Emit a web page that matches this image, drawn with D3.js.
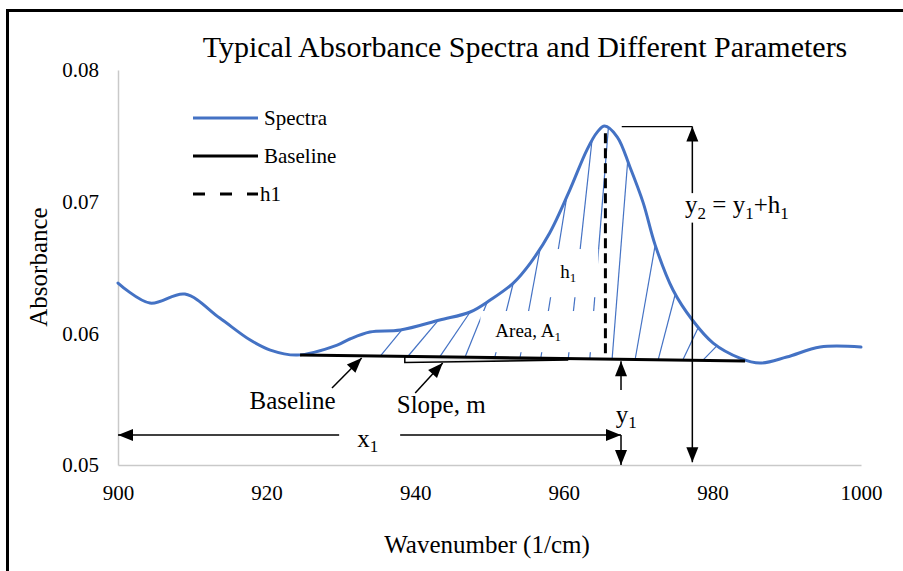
<!DOCTYPE html>
<html><head><meta charset="utf-8">
<script src="https://cdn.jsdelivr.net/npm/d3@7"></script>
<style>
body{margin:0;background:#fff;}
svg{display:block;font-family:"Liberation Serif","Times New Roman",serif;}
</style></head><body>
<svg id="c" width="903" height="571"></svg>
<script>
// ---------------- data ----------------
const wavenumber = [900, 904.3, 909.0, 913.7, 917.8, 920.5, 924.1, 929.5, 931.2, 933.9, 938.0, 943.3, 947.4, 950.1, 953.2, 955.5, 958.1, 960.8, 963.1, 964.5, 965.5, 967.2, 968.9, 970.7, 972.3, 974.7, 977.3, 980.1, 983.7, 986.4, 990.0, 994.5, 1000];
const absorbance = [0.06382, 0.06230, 0.06298, 0.06116, 0.05949, 0.05873, 0.05835, 0.05911, 0.05957, 0.06010, 0.06025, 0.06101, 0.06162, 0.06253, 0.06382, 0.06534, 0.06762, 0.07088, 0.07392, 0.07528, 0.07574, 0.07491, 0.07263, 0.06989, 0.06670, 0.06329, 0.06101, 0.05926, 0.05812, 0.05774, 0.05820, 0.05896, 0.05896];
const xTicks = [900, 920, 940, 960, 980, 1000];
const yTicks = [0.05, 0.06, 0.07, 0.08];
const baselineWn = [924.5, 984.4];
const baselineAbs = [0.05835, 0.05790];
const hatchBase = [935.3, 939.0, 943.3, 946.7, 950.7, 954.1, 956.9, 960.6, 963.5, 966.5, 969.6, 972.7, 976.0, 978.7];
const hatchTop  = [938.2, 943.1, 947.4, 949.7, 953.2, 956.8, 960.4, 963.8, 966.0, 968.6, 972.3, 975.0, 978.1, 980.6];
const legendLabels = ["Spectra", "Baseline", "h1"];
const peakWn = 965.6, peakAbs = 0.0757, h1TopAbs = 0.0752;
const y1Wn = 967.7, y2Wn = 977.3, x1Abs = 0.05228;
const titleText = "Typical Absorbance Spectra and Different Parameters";

// ---------------- setup ----------------
const W = 903, H = 571;
const svg = d3.select("#c");
const BLUE = "#4472C4";
const x = d3.scaleLinear().domain([900, 1000]).range([118, 861]);
const y = d3.scaleLinear().domain([0.05, 0.08]).range([465, 70]);
const base = w => baselineAbs[0] + (w - baselineWn[0]) * (baselineAbs[1] - baselineAbs[0]) / (baselineWn[1] - baselineWn[0]);

// outer frame
svg.append("rect").attr("x", 7.5).attr("y", 10.5).attr("width", W + 20).attr("height", H + 20)
  .attr("fill", "none").attr("stroke", "#000").attr("stroke-width", 3);

// title
svg.append("text").attr("x", 525).attr("y", 57).attr("text-anchor", "middle")
  .attr("font-size", 30).text(titleText);

// axes
const gx = svg.append("g").attr("transform", `translate(0,${y(0.05)})`)
  .call(d3.axisBottom(x).tickValues(xTicks).tickFormat(d3.format("d")).tickSize(0).tickSizeOuter(0).tickPadding(20));
const gy = svg.append("g").attr("transform", `translate(${x(900)},0)`)
  .call(d3.axisLeft(y).tickValues(yTicks).tickFormat(d3.format(".2f")).tickSize(0).tickSizeOuter(0).tickPadding(19));
[gx, gy].forEach(g => {
  g.select(".domain").attr("stroke", "#c9c9c9").attr("stroke-width", 1.5);
  g.selectAll("text").attr("font-size", 21).attr("font-family", '"Liberation Serif","Times New Roman",serif').attr("fill", "#000");
});

// axis titles
svg.append("text").attr("x", 487).attr("y", 553).attr("text-anchor", "middle").attr("font-size", 25).text("Wavenumber (1/cm)");
svg.append("text").attr("transform", "translate(47,267) rotate(-90)").attr("text-anchor", "middle").attr("font-size", 25).text("Absorbance");

// layers
const gHatch = svg.append("g");
const gMask = svg.append("g");
const gLines = svg.append("g");
const gAnn = svg.append("g");

// spectrum
const pts = wavenumber.map((w, i) => [x(w), y(absorbance[i])]);
const spec = gLines.append("path").attr("d", d3.line().curve(d3.curveCatmullRom.alpha(0.5))(pts))
  .attr("fill", "none").attr("stroke", BLUE).attr("stroke-width", 3).attr("stroke-linecap", "round");

// sample spectrum for hatch tops
const node = spec.node(), L = node.getTotalLength();
const samp = d3.range(0, 3001).map(i => { const p = node.getPointAtLength(L * i / 3000); return [p.x, p.y]; });
const curveY = px => { let best = samp[0]; for (const s of samp) if (Math.abs(s[0] - px) < Math.abs(best[0] - px)) best = s; return best[1]; };

// hatch
hatchBase.forEach((b, i) => {
  gHatch.append("line").attr("x1", x(b)).attr("y1", y(base(b)))
    .attr("x2", x(hatchTop[i])).attr("y2", curveY(x(hatchTop[i])))
    .attr("stroke", BLUE).attr("stroke-width", 1.2);
});

// slope wedge
const defs = svg.append("defs");
const grad = defs.append("linearGradient").attr("id", "wedge").attr("x1", "0").attr("x2", "1");
grad.append("stop").attr("offset", "0").attr("stop-color", "#fff");
grad.append("stop").attr("offset", "0.45").attr("stop-color", "#ddd");
grad.append("stop").attr("offset", "1").attr("stop-color", "#000");
const wL = 938.6, wR = 960.5;
gLines.append("path")
  .attr("d", `M${x(wL)},${y(base(wL))}L${x(wL)},${y(base(wL)) + 6}L${x(wR)},${y(base(wR)) + 1.5}L${x(wR)},${y(base(wR))}Z`)
  .attr("fill", "url(#wedge)").attr("stroke", "#000").attr("stroke-width", 1.5).attr("stroke-linejoin", "miter");

// baseline
gLines.append("line").attr("x1", x(baselineWn[0])).attr("y1", y(baselineAbs[0]))
  .attr("x2", x(baselineWn[1])).attr("y2", y(baselineAbs[1])).attr("stroke", "#000").attr("stroke-width", 3);

// h1 dashed
gLines.append("line").attr("x1", x(peakWn)).attr("x2", x(peakWn)).attr("y1", y(h1TopAbs)).attr("y2", y(base(peakWn)) + 1)
  .attr("stroke", "#000").attr("stroke-width", 3).attr("stroke-dasharray", "10,5");

// ------------- helpers -------------
function head(g, tx, ty, dx, dy) {
  const len = Math.hypot(dx, dy), ux = dx / len, uy = dy / len, hl = 15, hw = 6;
  const bx = tx - ux * hl, by = ty - uy * hl;
  g.append("path").attr("d", `M${tx},${ty}L${bx - uy * hw},${by + ux * hw}L${bx + uy * hw},${by - ux * hw}Z`).attr("fill", "#000");
}
function arrow(g, x1, y1, x2, y2, endHead, startHead) {
  g.append("line").attr("x1", x1).attr("y1", y1).attr("x2", x2).attr("y2", y2).attr("stroke", "#000").attr("stroke-width", 1.5);
  if (endHead) head(g, x2, y2, x2 - x1, y2 - y1);
  if (startHead) head(g, x1, y1, x1 - x2, y1 - y2);
}
function rich(g, parts, px, py, size, pads) {
  const t = g.append("text").attr("x", px).attr("y", py).attr("text-anchor", "middle").attr("font-size", size);
  let shifted = false;
  parts.forEach(p => {
    const s = t.append("tspan").text(p[0]);
    if (p[1]) { s.attr("font-size", size * 0.68).attr("dy", shifted ? 0 : size * 0.22); shifted = true; }
    else { if (shifted) s.attr("dy", -size * 0.22); shifted = false; }
  });
  if (pads) {
    const bb = t.node().getBBox();
    gMask.append("rect").attr("x", bb.x - pads[0]).attr("y", bb.y - pads[2])
      .attr("width", bb.width + pads[0] + pads[1]).attr("height", bb.height + pads[2] + pads[3]).attr("fill", "#fff");
  }
  return t;
}

// ------------- annotations -------------
// y2 arrow + top line
gAnn.append("line").attr("x1", x(967.8)).attr("x2", x(y2Wn)).attr("y1", y(peakAbs)).attr("y2", y(peakAbs)).attr("stroke", "#000").attr("stroke-width", 1.2);
arrow(gAnn, x(y2Wn), y(0.0502), x(y2Wn), y(peakAbs), true, true);
// y1 arrow
arrow(gAnn, x(y1Wn), y(0.05569), x(y1Wn), y(base(y1Wn)) + 2, true, false);
// x1 arrow
arrow(gAnn, x(900), y(x1Abs), x(y1Wn), y(x1Abs), true, true);
arrow(gAnn, x(y1Wn), y(x1Abs), x(y1Wn), y(0.0500), true, false);
// baseline / slope pointers
arrow(gAnn, x(928.8), y(0.05585), x(932.8), y(0.05813), true, false);
arrow(gAnn, x(940.0), y(0.05547), x(943.7), y(0.05775), true, false);

const gT = svg.append("g");
// texts with white backgrounds
const ty2 = rich(gT, [["y", 0], ["2", 1], [" = y", 0], ["1", 1], ["+h", 0], ["1", 1]], x(983.3), y(0.06913), 25, null);
{ const bb = ty2.node().getBBox(); gT.insert("rect", "text").attr("x", bb.x).attr("y", bb.y + 2).attr("width", bb.width).attr("height", bb.height - 2).attr("fill", "#fff"); }
const tx1 = rich(gT, [["x", 0], ["1", 1]], x(933.6), y(0.05137), 25, null);
{ const bb = tx1.node().getBBox(); gT.insert("rect", "text").attr("x", bb.x - 18).attr("y", y(x1Abs) - 3).attr("width", bb.width + 40).attr("height", 6).attr("fill", "#fff"); }
rich(gT, [["y", 0], ["1", 1]], x(968.4), y(0.05319), 25, null);
rich(gT, [["h", 0], ["1", 1]], x(960.6), y(0.06420), 19, [15, 22, 12, 12]);
rich(gT, [["Area, A", 0], ["1", 1]], x(955.2), y(0.05972), 19, [15, 37, 9, 8]);
gT.append("text").attr("x", x(923.5)).attr("y", y(0.05425)).attr("text-anchor", "middle").attr("font-size", 25).text("Baseline");
gT.append("text").attr("x", x(943.5)).attr("y", y(0.05395)).attr("text-anchor", "middle").attr("font-size", 25).text("Slope, m");

// legend
const lg = svg.append("g");
legendLabels.forEach((lab, i) => {
  const ly = 118 + i * 38;
  const ln = lg.append("line").attr("x1", 193).attr("x2", 258).attr("y1", ly).attr("y2", ly)
    .attr("stroke", i === 0 ? BLUE : "#000").attr("stroke-width", 3);
  if (i === 2) ln.attr("stroke-dasharray", "12,15");
  lg.append("text").attr("x", i === 2 ? 260 : 264).attr("y", ly + 7).attr("font-size", 21).text(lab);
});
</script>
</body></html>
